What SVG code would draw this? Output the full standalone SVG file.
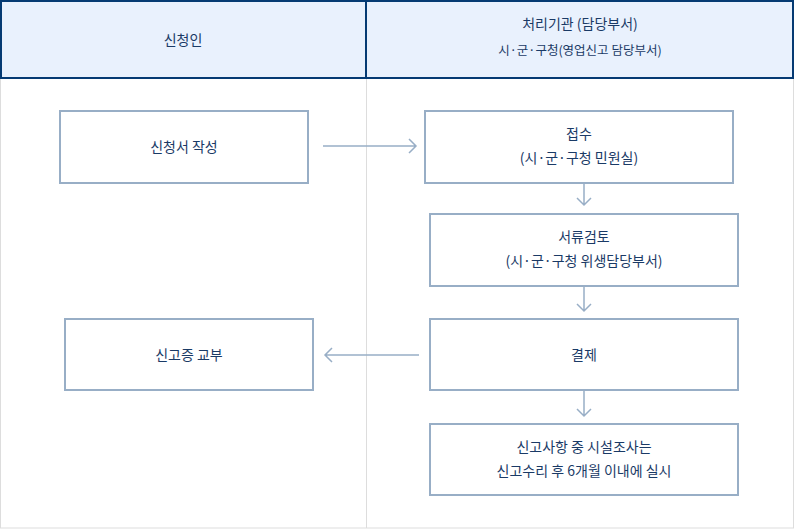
<svg xmlns="http://www.w3.org/2000/svg" width="794" height="529" viewBox="0 0 794 529">
<style>
.t{font-family:"Noto Sans CJK KR","Noto Sans",sans-serif;font-size:14px;fill:#1a3a66;text-anchor:middle}
.s{font-size:12.5px}
.b{fill:#fff;stroke:#98aec6;stroke-width:2}
.c{fill:none;stroke:#98aec6;stroke-width:1.5}
</style>
<rect x="0.5" y="78" width="793" height="450" fill="#fff" stroke="#dddddd"/>
<line x1="366.5" y1="78" x2="366.5" y2="528" stroke="#dddddd"/>
<rect x="1" y="1" width="792" height="77" fill="#e9f1fd" stroke="#053a73" stroke-width="2"/>
<line x1="366" y1="1" x2="366" y2="78" stroke="#053a73" stroke-width="2"/>
<text class="t" x="183" y="45">신청인</text>
<text class="t" x="580" y="29">처리기관 (담당부서)</text>
<text class="t s" x="580" y="55">시·군·구청(영업신고 담당부서)</text>
<g id="n1"><rect class="b" x="60" y="111" width="248" height="72"/><text class="t" x="184" y="152">신청서 작성</text></g>
<g id="n2"><rect class="b" x="425" y="111" width="308" height="72"/><text class="t" x="579" y="139">접수</text><text class="t" x="579" y="163">(시·군·구청 민원실)</text></g>
<g id="n3"><rect class="b" x="430" y="214" width="308" height="72"/><text class="t" x="584" y="242">서류검토</text><text class="t" x="584" y="266">(시·군·구청 위생담당부서)</text></g>
<g id="n4"><rect class="b" x="430" y="319" width="308" height="71"/><text class="t" x="584" y="360">결제</text></g>
<g id="n5"><rect class="b" x="430" y="424" width="308" height="71"/><text class="t" x="584" y="452">신고사항 중 시설조사는</text><text class="t" x="584" y="476">신고수리 후 6개월 이내에 실시</text></g>
<g id="n6"><rect class="b" x="65" y="319" width="248" height="71"/><text class="t" x="189" y="360">신고증 교부</text></g>
<g id="connectors">
<path class="c" d="M323 146H416M409 139l7 7-7 7"/>
<path class="c" d="M584 183V205M577 198l7 7 7-7"/>
<path class="c" d="M584 286V311M577 304l7 7 7-7"/>
<path class="c" d="M584 390V416M577 409l7 7 7-7"/>
<path class="c" d="M419 355H325M332 348l-7 7 7 7"/>
</g>
</svg>
